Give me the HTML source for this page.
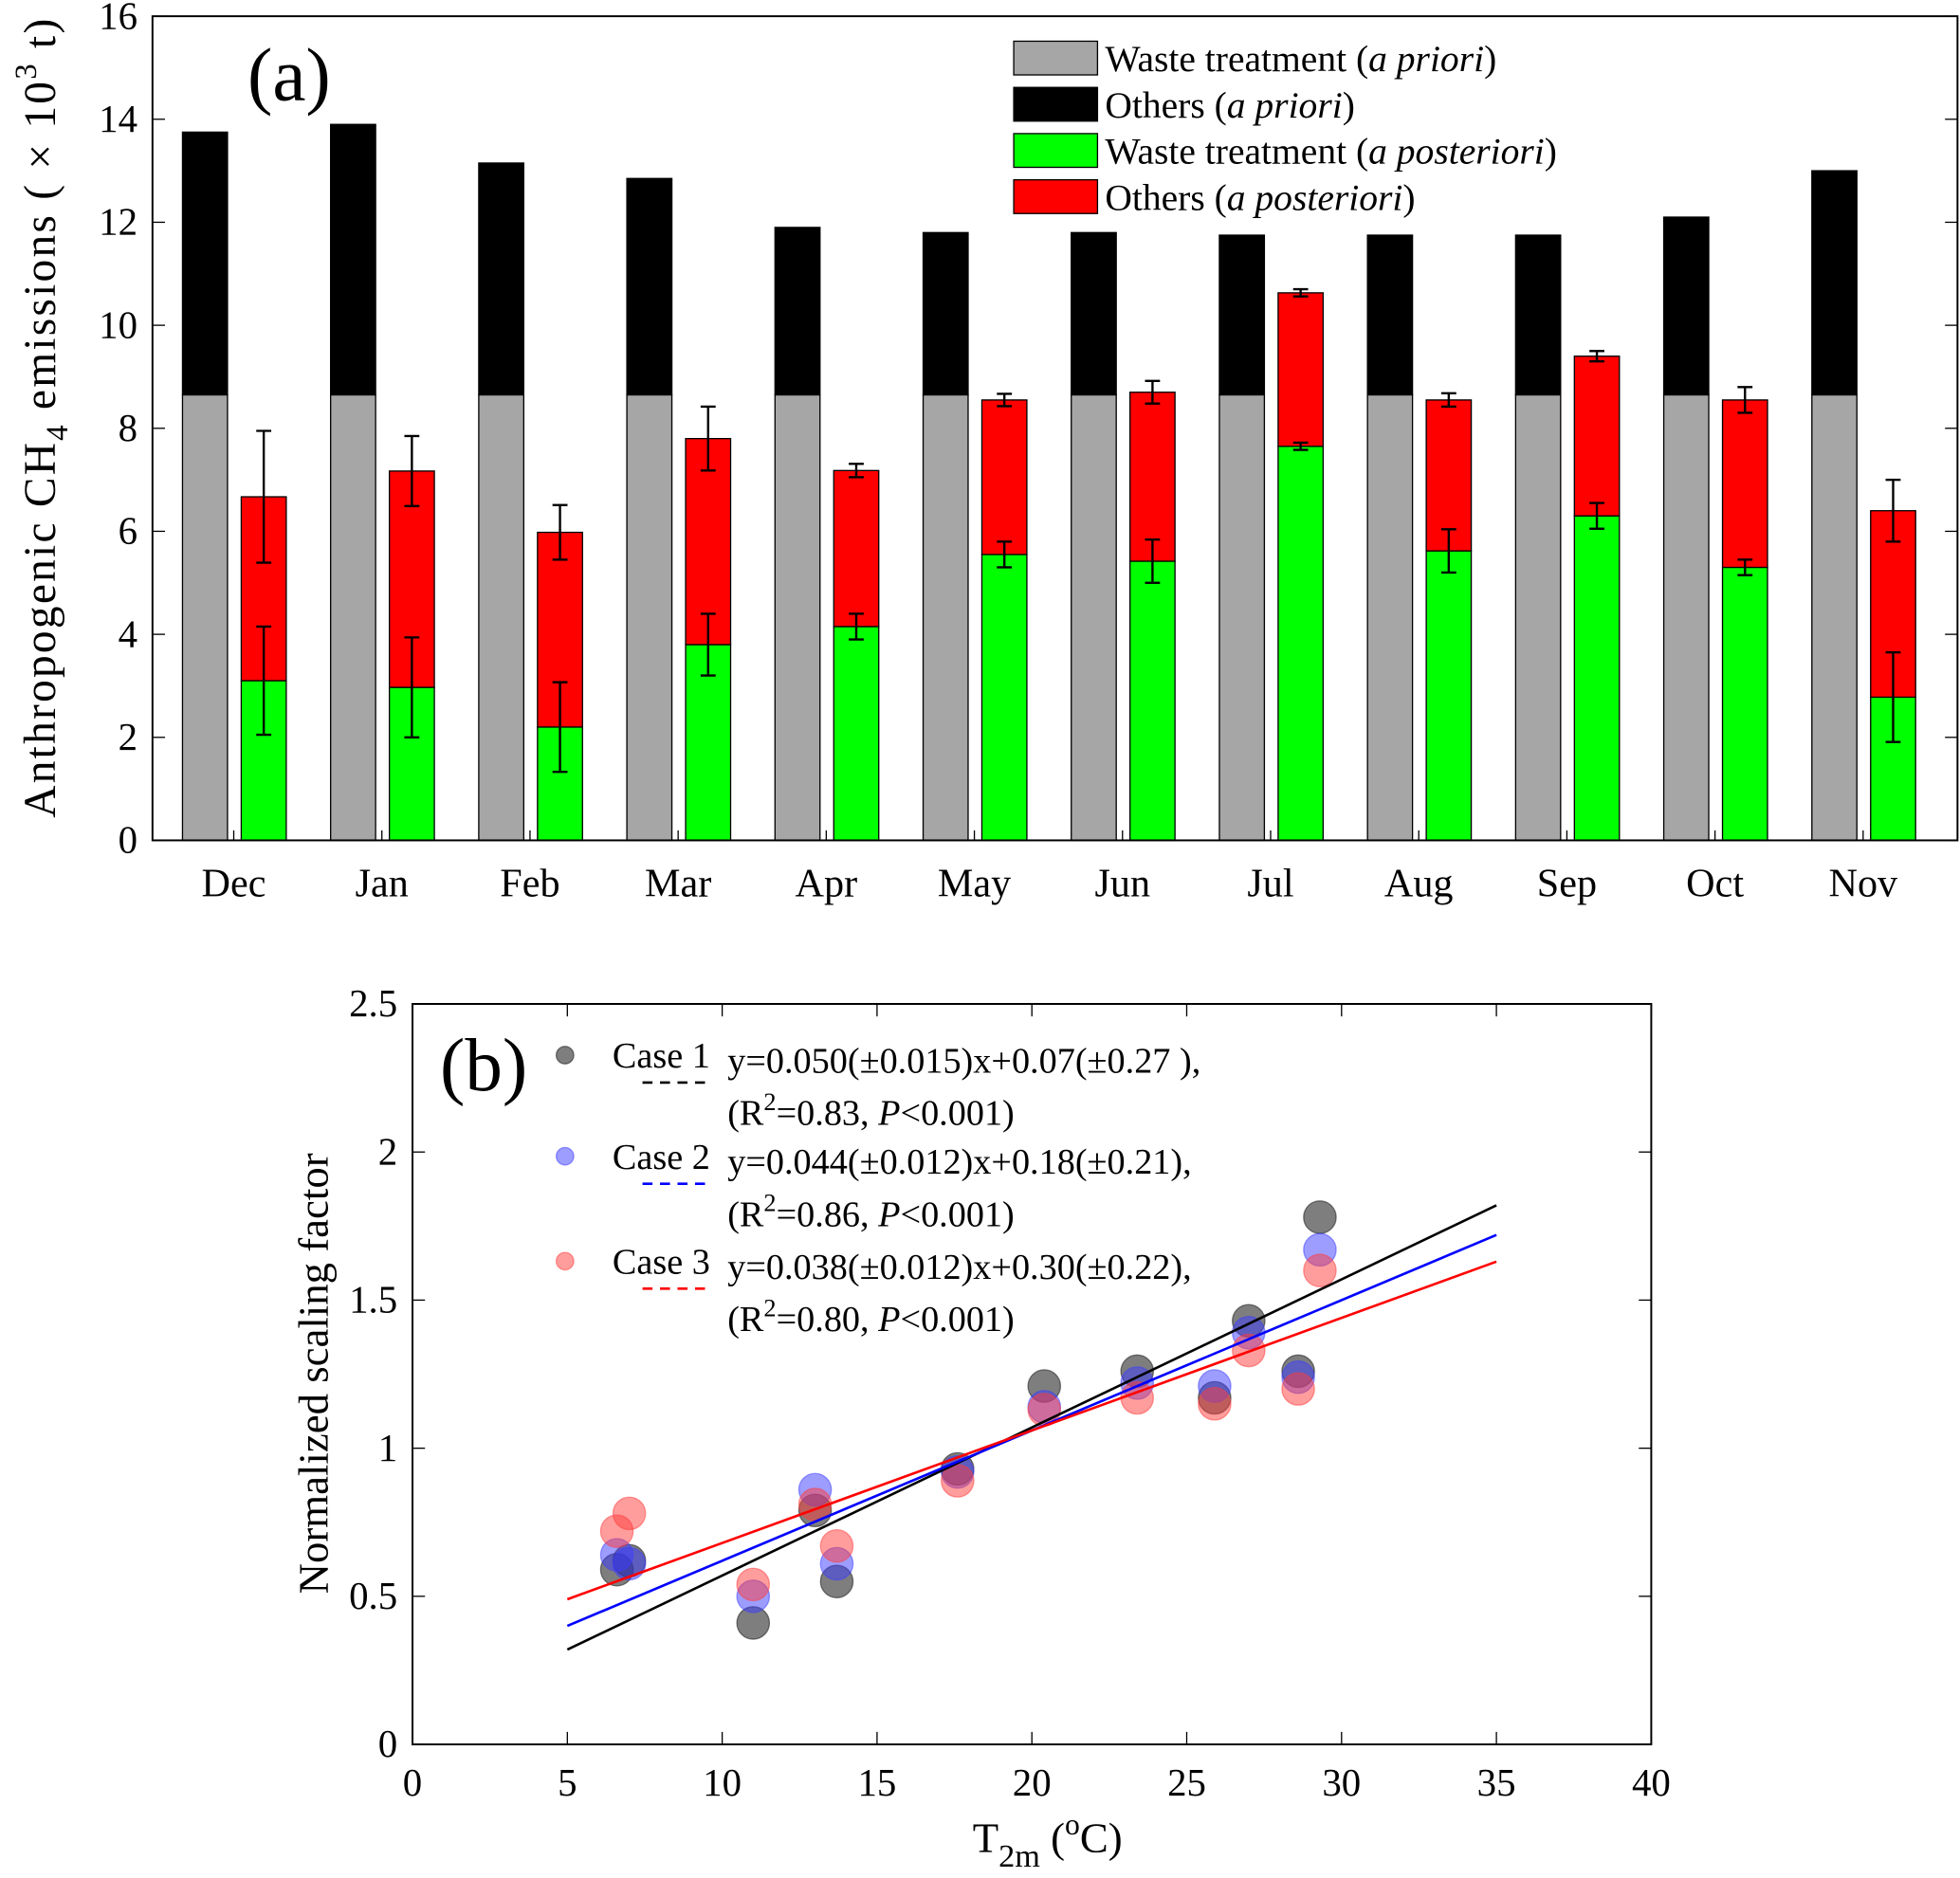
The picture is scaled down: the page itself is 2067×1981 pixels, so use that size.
<!DOCTYPE html>
<html><head><meta charset="utf-8"><style>
html,body{margin:0;padding:0;background:#fff}
svg{display:block}
text{font-family:"Liberation Serif",serif;fill:#000}
</style></head><body>
<svg id="fig" width="2067" height="1981" viewBox="0 0 1568 1504" preserveAspectRatio="none" xmlns="http://www.w3.org/2000/svg">
<g id="pa"></g>
<g id="pb"></g>
</svg>
<script>
// ---- Panel (a) data ----
const months = ["Dec","Jan","Feb","Mar","Apr","May","Jun","Jul","Aug","Sep","Oct","Nov"];
const priorWaste = [8.65,8.65,8.65,8.65,8.65,8.65,8.65,8.65,8.65,8.65,8.65,8.65];
const priorTotal = [13.75,13.9,13.15,12.85,11.9,11.8,11.8,11.75,11.75,11.75,12.1,13.0];
const postWaste = [3.1,2.97,2.2,3.8,4.15,5.55,5.42,7.65,5.62,6.3,5.3,2.78];
const postWasteErr = [1.05,0.97,0.87,0.6,0.25,0.25,0.42,0.07,0.42,0.25,0.15,0.87];
const postTotal = [6.67,7.17,5.98,7.8,7.18,8.55,8.7,10.63,8.55,9.4,8.55,6.4];
const postTotalErr = [1.28,0.68,0.53,0.62,0.13,0.12,0.22,0.07,0.13,0.1,0.25,0.6];
const yTicksA = [0,2,4,6,8,10,12,14,16];
// ---- Panel (b) data ----
const temps = [6.6,7.0,11.0,13.0,13.7,17.6,20.4,23.4,25.9,27.0,28.6,29.3];
const case1 = [0.59,0.62,0.41,0.79,0.55,0.93,1.21,1.26,1.17,1.43,1.26,1.78];
const case2 = [0.64,0.61,0.50,0.86,0.61,0.92,1.14,1.22,1.21,1.39,1.24,1.67];
const case3 = [0.72,0.78,0.54,0.81,0.67,0.89,1.13,1.17,1.15,1.33,1.20,1.60];
const slopes = [0.050,0.044,0.038];
const intercepts = [0.07,0.18,0.30];
const xTicksB = [0,5,10,15,20,25,30,35,40];
const yTicksB = [0,0.5,1,1.5,2,2.5];

const NS="http://www.w3.org/2000/svg";
function mk(parent,tag,attrs,txt){const e=document.createElementNS(NS,tag);for(const k in attrs)e.setAttribute(k,attrs[k]);if(txt!==undefined)e.textContent=txt;parent.appendChild(e);return e;}

// ===== Panel a =====
const pa=document.getElementById('pa');
const aL=122,aR=1566,aT=13,aB=673;
const ya=v=>aB-(v/16)*(aB-aT);
const xc=i=>187+i*118.5;
const bw=36;
let e;
for(let i=0;i<months.length;i++){
  const gx=xc(i)-41;
  e=mk(pa,'rect',{x:gx,y:ya(priorWaste[i]),width:bw,height:ya(0)-ya(priorWaste[i]),fill:'#a6a6a6',stroke:'#000','stroke-width':1});
  
  
  e=mk(pa,'rect',{x:gx,y:ya(priorTotal[i]),width:bw,height:ya(priorWaste[i])-ya(priorTotal[i]),fill:'#000',stroke:'#000','stroke-width':1});
  
  
  const px=xc(i)+6;
  e=mk(pa,'rect',{x:px,y:ya(postWaste[i]),width:bw,height:ya(0)-ya(postWaste[i]),fill:'#00ff00',stroke:'#000','stroke-width':1});
  
  
  e=mk(pa,'rect',{x:px,y:ya(postTotal[i]),width:bw,height:ya(postWaste[i])-ya(postTotal[i]),fill:'#ff0000',stroke:'#000','stroke-width':1});
  
  
  const cx=px+bw/2;
  [[postWaste[i],postWasteErr[i]],[postTotal[i],postTotalErr[i]]].forEach(([v,er],k)=>{
    const g=mk(pa,'g',{stroke:'#000','stroke-width':1.8});
    
    
    mk(g,'line',{x1:cx,x2:cx,y1:ya(v-er),y2:ya(v+er)});
    mk(g,'line',{x1:cx-6,x2:cx+6,y1:ya(v-er),y2:ya(v-er)});
    mk(g,'line',{x1:cx-6,x2:cx+6,y1:ya(v+er),y2:ya(v+er)});
  });
  e=mk(pa,'text',{x:xc(i),y:718,'font-size':32,'text-anchor':'middle'},months[i]);
  
  
  mk(pa,'line',{x1:xc(i),x2:xc(i),y1:aB,y2:aB-8,stroke:'#000','stroke-width':1});
}
yTicksA.forEach(t=>{
  mk(pa,'line',{x1:aL,x2:aL+10,y1:ya(t),y2:ya(t),stroke:'#000'});
  mk(pa,'line',{x1:aR,x2:aR-10,y1:ya(t),y2:ya(t),stroke:'#000'});
  e=mk(pa,'text',{x:aL-12,y:ya(t)+10,'font-size':31,'text-anchor':'end'},String(t));
  
  
});
e=mk(pa,'rect',{x:aL,y:aT,width:aR-aL,height:aB-aT,fill:'none',stroke:'#000','stroke-width':1.5});

e=mk(pa,'text',{x:198,y:80,'font-size':60},'(a)');

e=mk(pa,'text',{'font-size':36,'text-anchor':'middle',transform:'translate(44,335) rotate(-90)',textLength:640,lengthAdjust:'spacing'});

e.innerHTML='Anthropogenic CH<tspan dy="10" font-size="25">4</tspan><tspan dy="-10"> emissions ( × 10</tspan><tspan dy="-15" font-size="25">3</tspan><tspan dy="15"> t)</tspan>';
const legA=[['#a6a6a6','Waste treatment (','a priori',')'],['#000','Others (','a priori',')'],['#00ff00','Waste treatment (','a posteriori',')'],['#ff0000','Others (','a posteriori',')']];
legA.forEach((l,k)=>{
  const g=mk(pa,'g',{});
  
  
  mk(g,'rect',{x:811,y:33+k*37,width:67,height:27,fill:l[0],stroke:'#000'});
  const t=mk(g,'text',{x:884,y:57+k*37,'font-size':30});
  t.innerHTML=l[1]+'<tspan font-style="italic">'+l[2]+'</tspan>'+l[3];
});

// ===== Panel b =====
const pb=document.getElementById('pb');
const bL=330,bR=1321,bT=804,bB=1397;
const xb=v=>bL+(v/40)*(bR-bL);
const yb=v=>bB-(v/2.5)*(bB-bT);
xTicksB.forEach(t=>{
  mk(pb,'line',{x1:xb(t),x2:xb(t),y1:bB,y2:bB-10,stroke:'#000'});
  mk(pb,'line',{x1:xb(t),x2:xb(t),y1:bT,y2:bT+10,stroke:'#000'});
  e=mk(pb,'text',{x:xb(t),y:1438,'font-size':31,'text-anchor':'middle'},String(t));
  
});
yTicksB.forEach(t=>{
  mk(pb,'line',{x1:bL,x2:bL+10,y1:yb(t),y2:yb(t),stroke:'#000'});
  mk(pb,'line',{x1:bR,x2:bR-10,y1:yb(t),y2:yb(t),stroke:'#000'});
  e=mk(pb,'text',{x:bL-12,y:yb(t)+10,'font-size':31,'text-anchor':'end'},String(t));
  
});
const colors=['#000','#0000ff','#ff0000'];
const fills=['rgba(40,40,40,0.6)','rgba(60,60,255,0.5)','rgba(255,60,60,0.5)'];
const cases=[case1,case2,case3];
cases.forEach((arr,c)=>{
  arr.forEach((v,i)=>{
    e=mk(pb,'circle',{cx:xb(temps[i]),cy:yb(v),r:13,fill:fills[c],stroke:fills[c],'stroke-width':1});
    
    
  });
});
slopes.forEach((s,c)=>{
  e=mk(pb,'line',{x1:xb(5),y1:yb(s*5+intercepts[c]),x2:xb(35),y2:yb(s*35+intercepts[c]),stroke:colors[c],'stroke-width':2});
  
  
});
e=mk(pb,'rect',{x:bL,y:bT,width:bR-bL,height:bB-bT,fill:'none',stroke:'#000','stroke-width':1.5});

e=mk(pb,'text',{x:352,y:873,'font-size':60},'(b)');

const eqs=['y=0.050(±0.015)x+0.07(±0.27 ),','y=0.044(±0.012)x+0.18(±0.21),','y=0.038(±0.012)x+0.30(±0.22),'];
const r2=['0.83','0.86','0.80'];
const legY=[845,926,1010];
eqs.forEach((q,c)=>{
  const g=mk(pb,'g',{});
  
  
  mk(g,'circle',{cx:452,cy:legY[c],r:7,fill:fills[c],stroke:fills[c]});
  mk(g,'text',{x:490,y:legY[c]+10,'font-size':29},'Case '+(c+1));
  mk(g,'line',{x1:514,x2:570,y1:legY[c]+22,y2:legY[c]+22,stroke:colors[c],'stroke-width':2,'stroke-dasharray':'8,6'});
  mk(g,'text',{x:582,y:legY[c]+14,'font-size':29},q);
  const t=mk(g,'text',{x:582,y:legY[c]+56,'font-size':29});
  t.innerHTML='(R<tspan dy="-12" font-size="20">2</tspan><tspan dy="12">='+r2[c]+', </tspan><tspan font-style="italic">P</tspan>&lt;0.001)';
});
e=mk(pb,'text',{'font-size':34,'text-anchor':'middle',transform:'translate(262,1100) rotate(-90)'},'Normalized scaling factor');

e=mk(pb,'text',{x:838,y:1483,'font-size':34,'text-anchor':'middle'});

e.innerHTML='T<tspan dy="12" font-size="26">2m</tspan><tspan dy="-12"> (</tspan><tspan dy="-14" font-size="24">o</tspan><tspan dy="14">C)</tspan>';
</script>
</body></html>
